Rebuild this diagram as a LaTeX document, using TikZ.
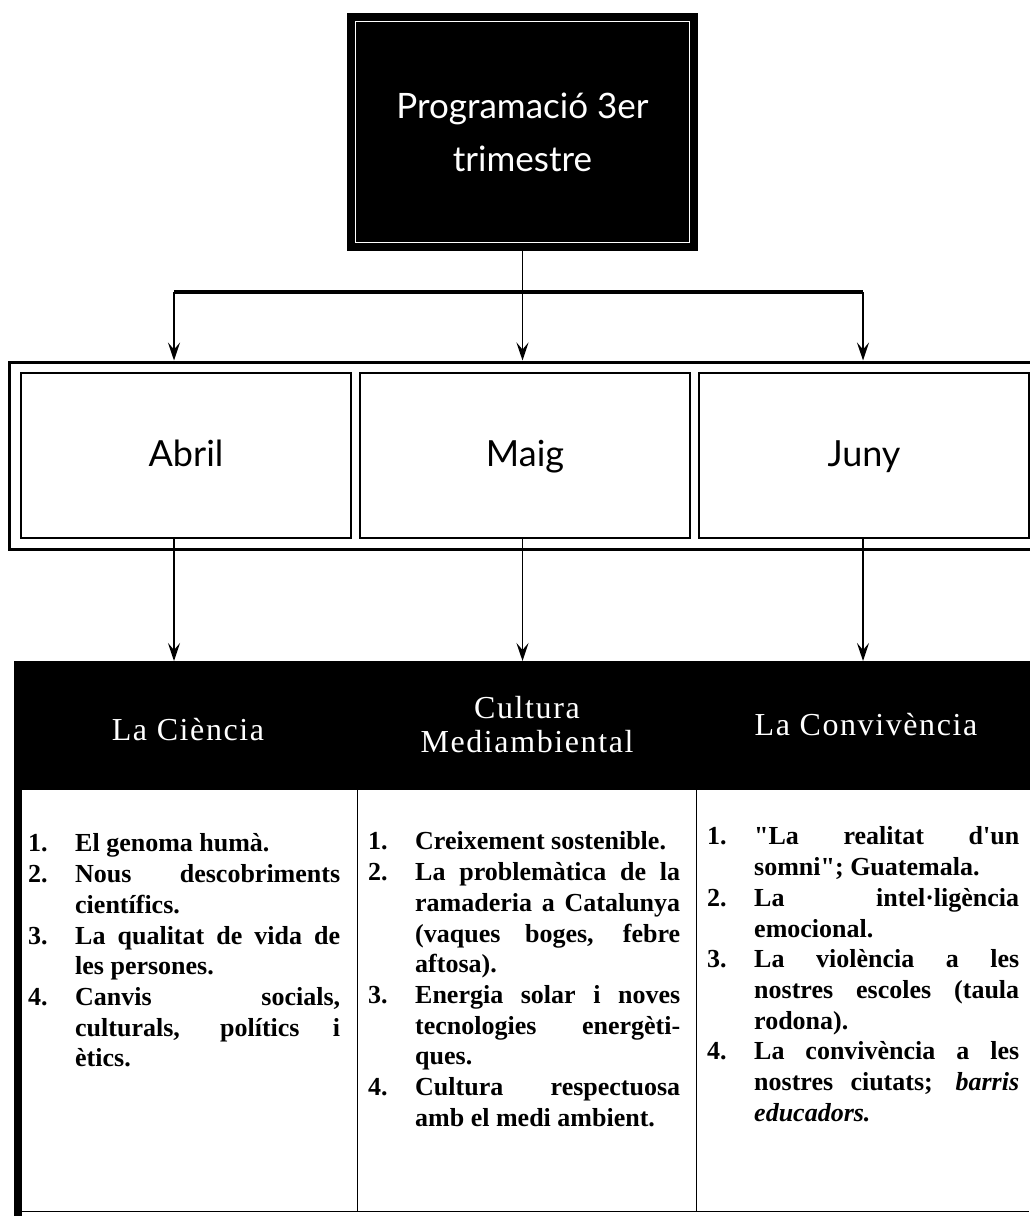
\documentclass[tikz,border=0pt]{standalone}
\usepackage{fontspec}
\setmainfont{Liberation Serif}[Ligatures=TeXOff]
\newfontfamily\handfont{Lato}
\newfontfamily\headfont[LetterSpace=5]{Liberation Serif}
\usetikzlibrary{arrows.meta}
\def\colsep{339}
\hyphenpenalty=10000
\tolerance=10000
\newcommand{\punt}[2]{\par\noindent\hangindent=47pt\hangafter=1\makebox[47pt][l]{#1.}#2\par}

\begin{document}
\begin{tikzpicture}[x=1pt,y=-1pt,>={Stealth[length=18pt,width=12pt,inset=7pt]}]
		\tikzstyle{title box}=[fill=black,minimum width=351pt,minimum height=238pt,inner sep=0pt,text=white,font=\handfont\fontsize{35}{53}\selectfont,align=center]
		\tikzstyle{month}=[draw=black,line width=1.6pt,minimum width=330pt,minimum height=165pt,inner sep=0pt,text height=30pt,text depth=8pt,font=\handfont\fontsize{36}{40}\selectfont]
		\tikzstyle{heading}=[text=white,font=\headfont\fontsize{32}{34}\selectfont,align=center]
		\tikzstyle{topic}=[anchor=north west,inner sep=0pt,text width=312pt,align=justify,font=\bfseries\fontsize{26}{30.7}\selectfont]
		\tikzstyle{link}=[->,line width=1.8pt]
		
		\useasboundingbox[fill=white] (0,0) rectangle (1029,1216);
		
		% Draw the title box
		\node[title box] (prog) at (522.5,132) {Programació 3er\\trimestre};
		\draw[white,line width=1.2pt] ([xshift=9pt,yshift=-9pt]prog.north west) rectangle ([xshift=-9pt,yshift=9pt]prog.south east);
		
		% Draw the frame and the month boxes
		\node[draw=black,line width=3pt,minimum width=1026pt,minimum height=187pt,inner sep=0pt] (frame) at (522,455.5) {};
		\foreach \m [count=\i] in {Abril,Maig,Juny}
		\node[month] (M-\i) at (186+\colsep*\i-\colsep,455.5) {\m};
		
		% Split the title into the three months
		\coordinate (b1) at (174,292);
		\coordinate (b3) at (863,292);
		\draw[line width=3.5pt] (b1) -- (b3);
		\draw[link] (b1) -- (b1 |- frame.north);
		\draw[link] (prog.south) -- (prog.south |- frame.north);
		\draw[link] (b3) -- (b3 |- frame.north);
		
		% Draw the heading band and the table
		\node[fill=black,minimum width=1021pt,minimum height=129pt,inner sep=0pt,anchor=north west] (head) at (14,661) {};
		\fill[black] (14,790) rectangle (22,1216);
		\draw[line width=1pt] (357,790) -- (357,1212);
		\draw[line width=1pt] (696,790) -- (696,1212);
		\draw[line width=1pt] (22,1211) -- (1029,1211);
		
		% Connect every month with its heading
		\draw[link] (b1 |- M-1.south) -- (b1 |- head.north);
		\draw[link] (prog.south |- M-2.south) -- (prog.south |- head.north);
		\draw[link] (b3 |- M-3.south) -- (b3 |- head.north);
		
		% Annotate the headings
		\node[heading] (H-1) at (188,730) {La Ciència};
		\node[heading] (H-2) at (527,725) {Cultura\\Mediambiental};
		\node[heading] (H-3) at (866,725) {La Convivència};
		
		% Fill in the topics
		\node[topic] (T-1) at (28,821) {
			\punt{1}{El genoma humà.}
			\punt{2}{Nous descobriments\linebreak científics.}
			\punt{3}{La qualitat de vida de\linebreak les persones.}
			\punt{4}{Canvis socials,\linebreak culturals, polítics i\linebreak ètics.}
		};
		\node[topic] (T-2) at (368,819) {
			\punt{1}{Creixement sostenible.}
			\punt{2}{La problemàtica de la\linebreak ramaderia a Catalunya\linebreak (vaques boges, febre\linebreak aftosa).}
			\punt{3}{Energia solar i noves\linebreak tecnologies energèti-\linebreak ques.}
			\punt{4}{Cultura respectuosa\linebreak amb el medi ambient.}
		};
		\node[topic] (T-3) at (707,814) {
			\punt{1}{"La realitat d'un\linebreak somni"; Guatemala.}
			\punt{2}{La intel·ligència\linebreak emocional.}
			\punt{3}{La violència a les\linebreak nostres escoles (taula\linebreak rodona).}
			\punt{4}{La convivència a les\linebreak nostres ciutats; \textit{barris\linebreak educadors.}}
		};
	\end{tikzpicture}
\end{document}
